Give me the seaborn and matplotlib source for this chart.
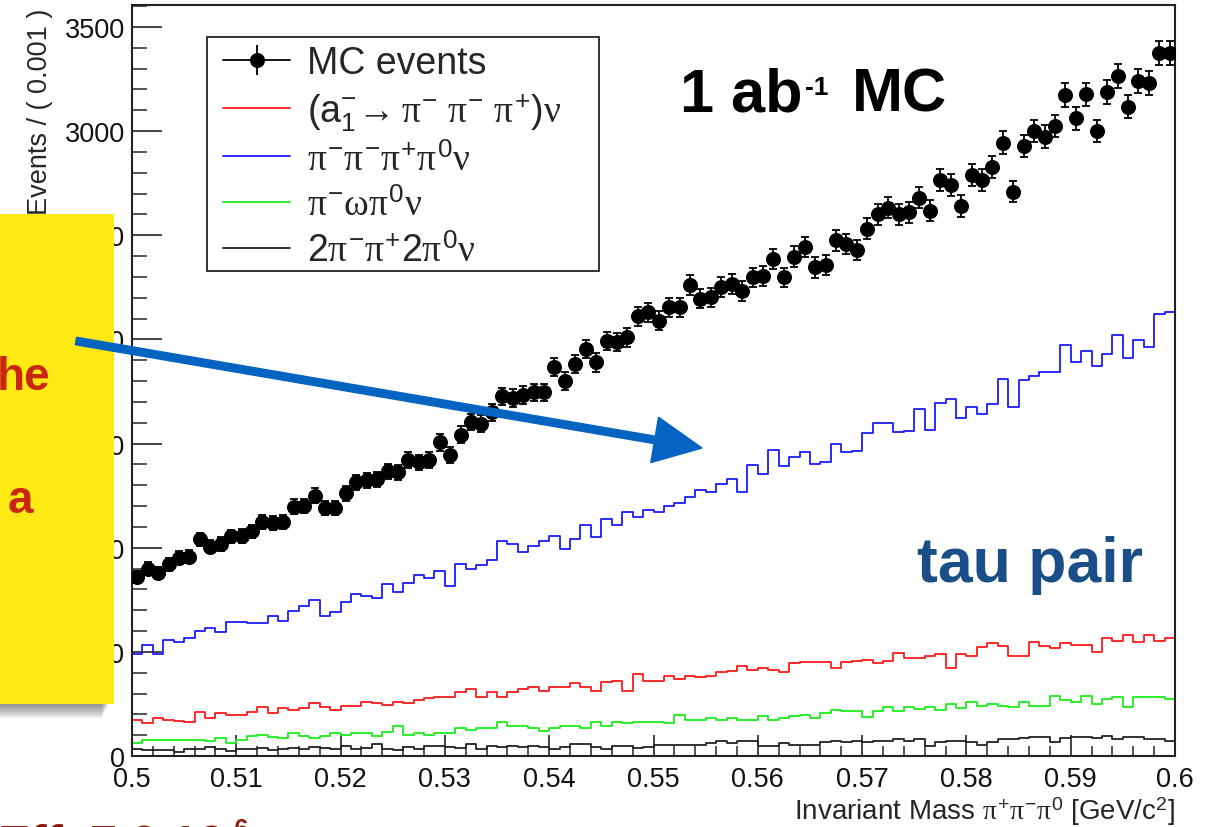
import numpy as np
import pandas as pd
import matplotlib
matplotlib.use("Agg")
import matplotlib.pyplot as plt
import seaborn as sns
from matplotlib.lines import Line2D
from matplotlib.patches import Rectangle, FancyArrow
from matplotlib.legend_handler import HandlerTuple
from matplotlib.ticker import MultipleLocator, FuncFormatter

# ---------------- data ----------------
mass_min, mass_max, n_bins = 0.5, 0.6, 100

mc_events = [860, 900, 877, 920, 952, 957, 1040, 1005, 1018, 1054,
             1056, 1078, 1125, 1117, 1122, 1197, 1201, 1249, 1189, 1189,
             1261, 1314, 1323, 1329, 1366, 1361, 1420, 1409, 1420, 1505,
             1444, 1543, 1604, 1596, 1649, 1726, 1718, 1733, 1745, 1745,
             1865, 1801, 1881, 1953, 1889, 1993, 1988, 2009, 2110, 2129,
             2089, 2153, 2153, 2261, 2196, 2201, 2252, 2265, 2233, 2297,
             2305, 2385, 2297, 2397, 2444, 2345, 2357, 2476, 2457, 2429,
             2532, 2600, 2632, 2600, 2609, 2680, 2617, 2764, 2741, 2641,
             2789, 2764, 2829, 2944, 2709, 2928, 3000, 2973, 3024, 3173,
             3061, 3176, 3000, 3187, 3264, 3117, 3240, 3232, 3376, 3376]

a1_3pi = [174, 158, 181, 174, 170, 165, 213, 181, 206, 197,
          197, 213, 237, 206, 229, 221, 229, 253, 237, 221,
          242, 242, 261, 253, 245, 261, 253, 270, 277, 285,
          285, 306, 321, 285, 306, 285, 306, 321, 329, 313,
          329, 329, 350, 329, 313, 353, 361, 313, 393, 361,
          361, 382, 369, 382, 377, 385, 405, 409, 430, 414,
          422, 414, 401, 446, 449, 449, 449, 422, 453, 457,
          462, 446, 457, 494, 470, 470, 481, 489, 422, 489,
          478, 525, 542, 529, 478, 478, 549, 526, 518, 542,
          534, 534, 501, 566, 550, 581, 545, 581, 550, 565]

pi3_pi0 = [489, 533, 489, 557, 549, 566, 598, 613, 597, 641,
           641, 637, 637, 673, 649, 697, 721, 750, 673, 693,
           737, 777, 769, 758, 825, 785, 830, 868, 854, 886,
           817, 921, 900, 918, 940, 1033, 1017, 980, 1006, 1033,
           1057, 993, 1041, 1110, 1049, 1137, 1110, 1169, 1148, 1180,
           1169, 1198, 1214, 1241, 1276, 1265, 1308, 1329, 1268, 1396,
           1353, 1470, 1393, 1436, 1457, 1404, 1409, 1497, 1457, 1465,
           1550, 1598, 1598, 1553, 1558, 1668, 1566, 1694, 1716, 1622,
           1676, 1644, 1692, 1809, 1676, 1806, 1825, 1841, 1841, 1974,
           1889, 1942, 1873, 1929, 2020, 1910, 1998, 1964, 2121, 2129]

pi_omega_pi0 = [62, 78, 78, 78, 78, 78, 78, 70, 86, 62,
                78, 94, 101, 93, 86, 110, 94, 86, 94, 110,
                102, 110, 110, 94, 114, 142, 102, 110, 102, 110,
                110, 133, 125, 133, 133, 165, 142, 142, 133, 118,
                133, 142, 142, 133, 165, 142, 165, 158, 165, 165,
                162, 158, 196, 174, 174, 181, 174, 181, 174, 174,
                190, 174, 182, 190, 198, 182, 205, 221, 214, 214,
                189, 214, 237, 214, 237, 226, 237, 221, 250, 229,
                261, 242, 250, 242, 234, 261, 242, 242, 290, 269,
                261, 290, 250, 274, 282, 234, 282, 282, 282, 274]

two_pi_two_pi0 = [34, 29, 29, 29, 21, 34, 34, 42, 34, 26,
                  34, 34, 38, 30, 34, 38, 34, 42, 38, 34,
                  50, 34, 38, 58, 34, 30, 42, 34, 48, 48,
                  42, 38, 58, 34, 50, 42, 50, 45, 50, 42,
                  34, 42, 58, 58, 45, 34, 50, 50, 38, 45,
                  54, 54, 54, 54, 54, 62, 74, 61, 74, 74,
                  50, 50, 61, 54, 54, 54, 66, 74, 66, 74,
                  66, 74, 70, 82, 74, 82, 50, 66, 74, 70,
                  66, 54, 66, 82, 82, 86, 90, 90, 66, 86,
                  90, 90, 86, 94, 82, 90, 90, 82, 82, 70]

components = [r"$(\mathrm{a}_{1}^{-}\!\rightarrow \pi^{-}\ \pi^{-}\ \pi^{+})\nu$",
              r"$\pi^{-}\pi^{-}\pi^{+}\pi^{0}\nu$",
              r"$\pi^{-}\omega\pi^{0}\nu$",
              r"$2\pi^{-}\pi^{+}2\pi^{0}\nu$"]
component_colors = ["#ff1a1a", "#1a1aff", "#1aee1a", "#222222"]
mc_label = "MC events"

# ---------------- style ----------------
sns.set_theme(style="ticks")
plt.rcParams["font.family"] = ["Liberation Sans", "DejaVu Sans"]
plt.rcParams["mathtext.fontset"] = "custom"
plt.rcParams["mathtext.rm"] = "Liberation Sans"
plt.rcParams["mathtext.it"] = "Liberation Serif"
plt.rcParams["mathtext.bf"] = "Liberation Sans:bold"
plt.rcParams["mathtext.sf"] = "Liberation Sans"
plt.rcParams["axes.unicode_minus"] = True

edges = np.linspace(mass_min, mass_max, n_bins + 1)
centers = 0.5 * (edges[:-1] + edges[1:])

df = pd.DataFrame({
    "mass": np.tile(centers, 4),
    "events": np.concatenate([a1_3pi, pi3_pi0, pi_omega_pi0, two_pi_two_pi0]),
    "component": np.repeat(components, n_bins),
})

W, H = 1223, 828
fig = plt.figure(figsize=(W / 100, H / 100), dpi=100)
ax = fig.add_axes([132 / W, 1 - 757 / H, 1043 / W, 751 / H])

sns.histplot(data=df, x="mass", weights="events", hue="component",
             hue_order=components, palette=dict(zip(components, component_colors)),
             bins=edges.tolist(), element="step", fill=False, linewidth=1.3,
             legend=False, ax=ax, zorder=2)

mc = np.array(mc_events, dtype=float)
ax.errorbar(centers, mc, yerr=np.sqrt(mc), fmt="o", color="black",
            ms=9.8, elinewidth=1.3, capsize=3, capthick=1.3, zorder=3)

ax.set_xlim(mass_min, mass_max)
ax.set_ylim(0, 3605)

ax.xaxis.set_major_locator(MultipleLocator(0.01))
ax.xaxis.set_minor_locator(MultipleLocator(0.002))
ax.xaxis.set_major_formatter(FuncFormatter(lambda v, p: f"{v:.3g}"))
ax.yaxis.set_major_locator(MultipleLocator(500))
ax.yaxis.set_minor_locator(MultipleLocator(100))
ax.yaxis.set_major_formatter(FuncFormatter(lambda v, p: f"{v:.0f}"))

ax.tick_params(axis="x", which="major", direction="in", length=15, width=1.1,
               pad=7, labelsize=19.5, colors="#111111", top=False)
ax.tick_params(axis="x", which="minor", direction="in", length=7.5, width=1.1, top=False)
ax.tick_params(axis="y", which="major", direction="in", length=21.6, width=1.1,
               pad=5, labelsize=19.5, colors="#111111", right=False)
ax.tick_params(axis="y", which="minor", direction="in", length=10.8, width=1.1, right=False)
for s in ax.spines.values():
    s.set_linewidth(1.5)
    s.set_color("#222222")
    s.set_visible(True)

ax.set_xlabel(r"Invariant Mass $\pi^{+}\pi^{-}\pi^{0}$ [GeV/c$^{2}$]", fontsize=20, loc="right")
ax.xaxis.set_label_coords(1.0, -0.051)
ax.set_ylabel("Events / ( 0.001 )", fontsize=19.5, loc="top")
ax.yaxis.set_label_coords(-0.0757, 0.997)

# legend (frame drawn as box like ROOT)
ax.add_patch(Rectangle((0.0719, 0.6462), 0.3758, 0.3116, transform=ax.transAxes,
                       fc="white", ec="#222222", lw=1.3, zorder=5))
h_mc = (Line2D([], [], color="black", lw=1.3, marker="o", ms=9.8),
        Line2D([], [], color="black", ls="none", marker="|", ms=22, mew=1.3))
handles = [h_mc] + [Line2D([], [], color=c, lw=1.3) for c in component_colors]
leg = ax.legend(handles, [mc_label] + components,
                handler_map={tuple: HandlerTuple(ndivide=1, pad=0)},
                loc="upper left", bbox_to_anchor=(0.0872, 0.9467),
                borderaxespad=0, borderpad=0, frameon=False, fontsize=27,
                labelspacing=0.26, handlelength=1.79, handletextpad=0.45)
leg.set_zorder(6)

renderer = fig.canvas.get_renderer()


def text_run(x_px, base_px, pieces, color, zorder=4):
    """Place bold text pieces one after another (x gap, size, raise)."""
    x = x_px
    for s, size, gap, rise in pieces:
        x += gap
        t = fig.text(x / W, 1 - (base_px - rise) / H, s, fontsize=size,
                     fontweight="bold", color=color, ha="left",
                     va="baseline", zorder=zorder)
        x = t.get_window_extent(renderer).x1


# annotations
text_run(680, 112, [("1 ab", 44, 0, 0), ("-1", 19, 3, 17), ("MC", 44, 23, 0)], "black")
fig.text(917 / W, 1 - 582 / H, "tau pair", fontsize=45,
         fontweight="bold", color="#1a4e86", ha="left", va="baseline")

# yellow note box with drop shadow
for k in range(1, 9):
    fig.add_artist(Rectangle((0, 1 - (703 + 2 * k) / H), (110 - k) / W, (2 * k + 2) / H,
                             transform=fig.transFigure, fc="#333333", ec="none",
                             alpha=0.09, zorder=9))
fig.add_artist(Rectangle((0, 1 - 705 / H), 114 / W, 490 / H,
                         transform=fig.transFigure, fc="#ffe914", ec="none", zorder=10))
fig.text(-3 / W, 1 - 390 / H, "he", fontsize=33, fontweight="bold",
         color="#c8260e", ha="left", va="baseline", zorder=11)
fig.text(8 / W, 1 - 513 / H, "a", fontsize=33, fontweight="bold",
         color="#c8260e", ha="left", va="baseline", zorder=11)

fig.add_artist(FancyArrow(0.76, 4.86, 6.26, -1.07, width=0.075, head_width=0.46,
                          head_length=0.48, length_includes_head=True,
                          transform=fig.dpi_scale_trans, color="#0563c1", zorder=12))

text_run(-2, 859, [("Eff. 7.0 10", 35, 0, 0), ("-6", 18, 1, 22)], "#8b1a12", zorder=11)

fig.savefig("out.png", dpi=100)
